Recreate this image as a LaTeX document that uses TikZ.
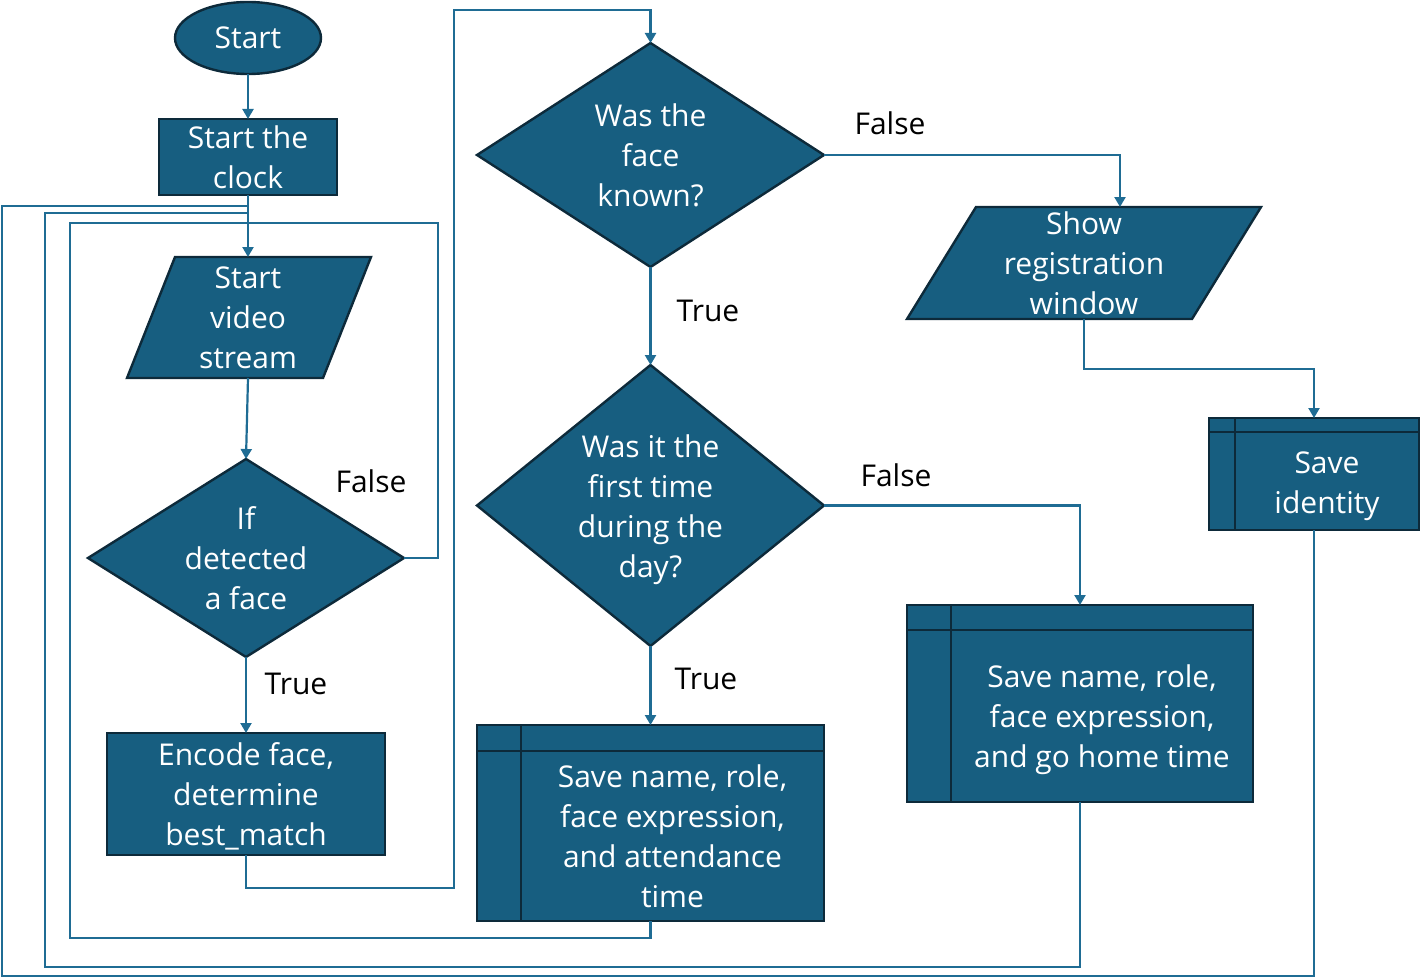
\documentclass[tikz,border=0pt]{standalone}
\usepackage{fontspec}
\setmainfont{Open Sans}
\usetikzlibrary{shapes.geometric,arrows.meta,calc}
\definecolor{boxfill}{RGB}{23,94,128}
\definecolor{boxline}{RGB}{13,42,58}
\definecolor{connc}{RGB}{31,108,148}
\newcommand\mysubproc[3]{%
  \draw[draw=boxline,line width=2.4pt]
    ($(#1.north west)+(#2,0)$) -- ($(#1.south west)+(#2,0)$)
    ($(#1.north west)+(0,#3)$) -- ($(#1.north east)+(0,#3)$);}
\begin{document}
\begin{tikzpicture}[x=1pt,y=-1pt,
  shp/.style={fill=boxfill,draw=boxline,line width=2.4pt,line join=miter},
  txt/.style={text=white,font=\fontsize{30}{40}\selectfont,align=center,inner sep=0pt,outer sep=0pt},
  proc/.style={shp,txt,rectangle},
  dia/.style={shp,diamond,inner sep=0pt,outer sep=0pt},
  subbox/.style={shp,rectangle,inner sep=0pt,outer sep=0pt},
  lbl/.style={font=\fontsize{30}{40}\selectfont,text=black,inner sep=0pt},
  link/.style={draw=connc,line width=2.2pt},
  arr/.style={link,-{Triangle[length=10pt,width=11pt]}}]
\useasboundingbox (0,0) rectangle (1420,979);

% shapes
\node[shp,ellipse,txt,minimum width=146,minimum height=72] (start) at (248,38) {Start};
\node[proc,minimum width=178,minimum height=76] (clock) at (248,157) {Start the\\clock};

\draw[shp] (175,257) -- (371,257) -- (323,378) -- (127,378) -- cycle;
\node[txt,minimum height=121] (video) at (248,317.5) {Start\\video\\stream};

\node[dia,minimum width=316,minimum height=198] (d1) at (246,558) {};
\node[txt] (d1t) at (d1) {If\\detected\\a face};

\node[subbox,minimum width=278,minimum height=122] (enc) at (246,794) {};
\node[txt] (enct) at (246,796) {Encode face,\\determine\\best\_match};

\node[dia,minimum width=347,minimum height=224] (d2) at (650.5,155) {};
\node[txt] (d2t) at (d2) {Was the\\face\\known?};

\node[dia,minimum width=347,minimum height=281] (d3) at (650.5,505.5) {};
\node[txt] (d3t) at (650.5,509.5) {Was it the\\first time\\during the\\day?};

\node[subbox,minimum width=347,minimum height=196] (att) at (650.5,823) {};
\mysubproc{att}{44}{26}
\node[txt] (attt) at (672.5,836.5) {Save name, role,\\face expression,\\and attendance\\time};

\draw[shp] (976,207) -- (1261,207) -- (1192,319) -- (907,319) -- cycle;
\node[txt,minimum height=112] (reg) at (1084,263) {Show\\registration\\window};

\node[subbox,minimum width=346,minimum height=197] (home) at (1080,703.5) {};
\mysubproc{home}{44}{25}
\node[txt] (homet) at (1102,720) {Save name, role,\\face expression,\\and go home time};

\node[subbox,minimum width=210,minimum height=112] (ident) at (1314,474) {};
\mysubproc{ident}{26}{14}
\node[txt] (identt) at (1327,486) {Save\\identity};

% join points on the clock-video line
\coordinate (j1) at (248,206);
\coordinate (j2) at (248,213);
\coordinate (j3) at (248,223);

% connectors
\draw[arr] (start.south) -- (clock.north);
\draw[arr] (clock.south) -- (video.north);
\draw[arr] (video.south) -- (d1.north);
\draw[arr] (d1.south) -- (enc.north);
\draw[link] (d1.east) -- ++(34,0) |- (j3);
\draw[arr] (enc.south) |- (454,888) -- (454,10) -| (d2.north);
\draw[arr] (d2.south) -- (d3.north);
\draw[arr] (d2.east) -| ($(reg.north)+(36,0)$);
\draw[arr] (d3.south) -- (att.north);
\draw[arr] (d3.east) -| (home.north);
\draw[arr] (reg.south) -- ++(0,50) -| (ident.north);
\draw[link] (att.south) -- ++(0,17) -| (70,223) -- (j3);
\draw[link] (home.south) -- ++(0,165) -| (45,213) -- (j2);
\draw[link] (ident.south) -- ++(0,446) -| (2,206) -- (j1);

% labels
\node[lbl] (f1) at (371,481) {False};
\node[lbl] (t1) at (296,684) {True};
\node[lbl] (f2) at (890,123) {False};
\node[lbl] (t2) at (708,311) {True};
\node[lbl] (f3) at (896,475) {False};
\node[lbl] (t3) at (706,679) {True};
\end{tikzpicture}
\end{document}
